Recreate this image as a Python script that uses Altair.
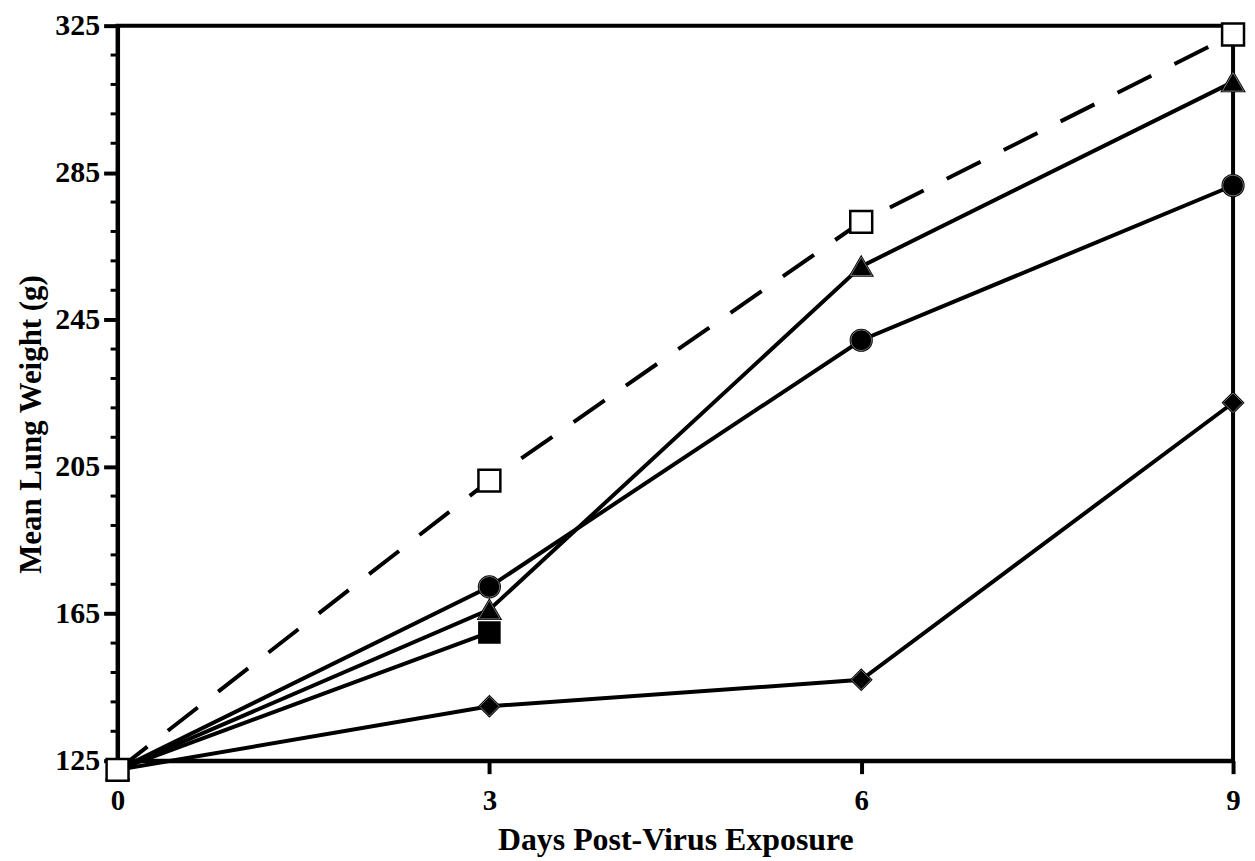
import altair as alt
import pandas as pd

days = [0, 3, 6, 9]
open_square = [122.5, 201.2, 271.6, 322.6]
triangle = [122.5, 166.1, 259.5, 309.7]
circle = [122.5, 172.3, 239.4, 281.5]
filled_square_days = [0, 3]
filled_square = [122.5, 159.9]
diamond = [122.5, 139.8, 147.0, 222.4]

y_major = [125, 165, 205, 245, 285, 325]
y_minor = [v for v in range(125, 326, 8) if v not in y_major]
x_ticks = [0, 3, 6, 9]

FONT = "Liberation Serif"

rows = []
for name, xs, ys in [
    ("diamond", days, diamond),
    ("filled_square", filled_square_days, filled_square),
    ("circle", days, circle),
    ("triangle", days, triangle),
    ("open_square", days, open_square),
]:
    for d, v in zip(xs, ys):
        rows.append({"series": name, "day": d, "value": v})
df = pd.DataFrame(rows)
names = ["diamond", "filled_square", "circle", "triangle", "open_square"]
shapes = ["diamond", "square", "circle", "triangle-up", "square"]

xscale = alt.Scale(domain=[0, 9], nice=False, zero=False)
yscale = alt.Scale(domain=[125, 325], nice=False, zero=False)

xaxis = alt.Axis(
    values=x_ticks, title="Days Post-Virus Exposure", grid=False,
    domainWidth=4, domainColor="black", tickWidth=4, tickColor="black", tickSize=13,
    labelFont=FONT, labelFontWeight="bold", labelFontSize=29, labelColor="black",
    labelBaseline="alphabetic", labelPadding=36, labelFlush=False,
    titleFont=FONT, titleFontWeight="bold", titleFontSize=32, titleColor="black",
    titleBaseline="alphabetic", titleY=89,
)
yaxis = alt.Axis(
    values=y_major, title="Mean Lung Weight (g)", grid=False,
    domainWidth=4, domainColor="black", tickWidth=4, tickColor="black", tickSize=14,
    labelFont=FONT, labelFontWeight="bold", labelFontSize=30, labelColor="black",
    labelPadding=4, labelBaseline="middle", labelFlush=False,
    titleFont=FONT, titleFontWeight="bold", titleFontSize=31, titleColor="black",
    titleAngle=270, titleBaseline="middle", titleAlign="center", titleX=-86, titleY=400,
)
xenc = alt.X("day:Q", scale=xscale, axis=xaxis)
yenc = alt.Y("value:Q", scale=yscale, axis=yaxis)

base = alt.Chart(df)

solid = base.transform_filter(alt.datum.series != "open_square").mark_line(
    color="black", strokeWidth=4
).encode(x=xenc, y=yenc, detail="series:N")

dashed = base.transform_filter(alt.datum.series == "open_square").mark_line(
    color="black", strokeWidth=4, strokeDash=[38, 26]
).encode(x=xenc, y=yenc)

points = base.mark_point(filled=True, stroke="black", strokeWidth=2.5, opacity=1).encode(
    x=xenc, y=yenc,
    shape=alt.Shape("series:N", scale=alt.Scale(domain=names, range=shapes), legend=None),
    fill=alt.Fill("series:N", scale=alt.Scale(domain=names,
                  range=["black", "black", "black", "black", "white"]), legend=None),
    size=alt.Size("series:N", scale=alt.Scale(domain=names,
                  range=[380, 484, 500, 480, 440]), legend=None),
    order=alt.Order("ord:Q"),
).transform_calculate(ord="indexof(['diamond','filled_square','circle','triangle','open_square'], datum.series)")

inner = base.transform_filter(
    (alt.datum.series != "open_square") & (alt.datum.series != "filled_square") & (alt.datum.day > 0)
).mark_point(filled=False, stroke="#808080", strokeWidth=0.9, opacity=1).encode(
    x=xenc, y=yenc,
    shape=alt.Shape("series:N", scale=alt.Scale(domain=names, range=shapes), legend=None),
    size=alt.Size("series:N", scale=alt.Scale(domain=names,
                  range=[150, 200, 270, 170, 200]), legend=None),
)

minor = alt.Chart(pd.DataFrame({"v": y_minor})).mark_rule(color="black", strokeWidth=3).encode(
    y=alt.Y("v:Q", scale=yscale, axis=yaxis),
    x=alt.value(-7), x2=alt.value(0),
)

chart = alt.layer(solid, dashed, points, inner, minor).properties(
    width=1120, height=738,
    background="white",
    autosize=alt.AutoSizeParams(type="none"),
    padding={"left": 110, "top": 16, "right": 14, "bottom": 100},
).configure_view(stroke="black", strokeWidth=4)

chart.save("out.html", embed_options={"renderer": "svg", "actions": False})
